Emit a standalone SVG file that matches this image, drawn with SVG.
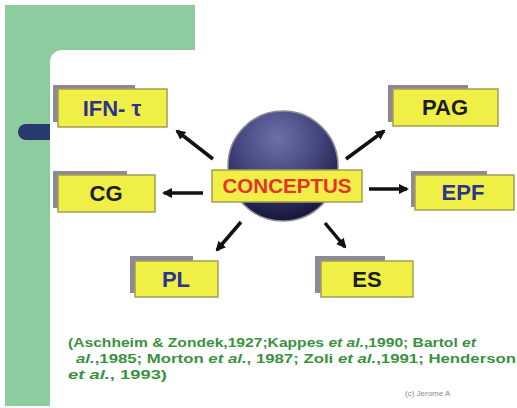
<svg xmlns="http://www.w3.org/2000/svg" width="517" height="408" viewBox="0 0 517 408">
<style>
.box{fill:#efef45;stroke:#a39d55;stroke-width:1.5}
.shadow{fill:#8c8898}
.lbl{font-family:"Liberation Sans",Arial,sans-serif;font-weight:bold;font-size:22px;text-anchor:middle}
.blue{fill:#2d3390}
.blk{fill:#1c1c1c}
.conn line{stroke:#111;stroke-width:3.5;marker-end:url(#ah)}
.cite{font-family:"Liberation Sans",Arial,sans-serif;font-weight:bold;font-size:12.5px;fill:#3a9240}
</style>
<defs>
<marker id="ah" markerUnits="userSpaceOnUse" markerWidth="10" markerHeight="10" viewBox="0 0 10 10" refX="8" refY="5" orient="auto">
<path d="M0,0 L10,5 L0,10 z" fill="#111"/>
</marker>
<radialGradient id="sph" cx="0.45" cy="0.25" r="0.85">
<stop offset="0" stop-color="#6e6ea8"/>
<stop offset="0.45" stop-color="#45457e"/>
<stop offset="0.8" stop-color="#1e1e48"/>
<stop offset="1" stop-color="#0c0c24"/>
</radialGradient>
</defs>
<rect width="517" height="408" fill="#ffffff"/>
<g id="background">
<rect x="5" y="5" width="190" height="60" fill="#8dcc9f"/>
<rect x="5" y="5" width="45" height="401" fill="#8dcc9f"/>
<rect x="18" y="124" width="45" height="16" rx="8" fill="#263a70"/>
<rect x="50" y="50" width="480" height="370" rx="12" fill="#ffffff"/>
</g>
<g id="conceptus">
<circle cx="283" cy="166" r="55" fill="url(#sph)" stroke="#8a8a9a" stroke-width="1.5"/>
<rect class="box" x="212" y="170" width="150" height="32"/>
<text x="287" y="193" font-family="'Liberation Sans',Arial,sans-serif" font-weight="bold" font-size="20" fill="#e5322c" text-anchor="middle" textLength="129" lengthAdjust="spacingAndGlyphs">CONCEPTUS</text>
</g>
<g id="ifn">
<rect class="shadow" x="53" y="85" width="82" height="37"/>
<rect class="box" x="58" y="89" width="109" height="38"/>
<text class="lbl blue" x="112" y="116">IFN- τ</text>
</g>
<g id="cg">
<rect class="shadow" x="53" y="171" width="74" height="37"/>
<rect class="box" x="58" y="175" width="97" height="37"/>
<text class="lbl blk" x="106" y="201">CG</text>
</g>
<g id="pl">
<rect class="shadow" x="130" y="256" width="63" height="37"/>
<rect class="box" x="135" y="261" width="83" height="36"/>
<text class="lbl blue" x="176" y="287">PL</text>
</g>
<g id="es">
<rect class="shadow" x="315" y="256" width="70" height="37"/>
<rect class="box" x="321" y="261" width="92" height="36"/>
<text class="lbl blk" x="367" y="287">ES</text>
</g>
<g id="pag">
<rect class="shadow" x="388" y="85" width="80" height="37"/>
<rect class="box" x="393" y="89" width="105" height="37"/>
<text class="lbl blk" x="445" y="115">PAG</text>
</g>
<g id="epf">
<rect class="shadow" x="411" y="171" width="76" height="36"/>
<rect class="box" x="415" y="175" width="99" height="35"/>
<text class="lbl blue" x="463" y="200">EPF</text>
</g>
<g id="connectors" class="conn">
<line x1="213" y1="159" x2="177" y2="131"/>
<line x1="203" y1="193" x2="164" y2="193"/>
<line x1="241" y1="222" x2="217" y2="250"/>
<line x1="325" y1="223" x2="345" y2="247"/>
<line x1="346" y1="159" x2="384" y2="131"/>
<line x1="369" y1="189" x2="407" y2="189"/>
</g>
<g id="citation">
<text class="cite" x="68" y="347" textLength="408" lengthAdjust="spacingAndGlyphs">(Aschheim &amp; Zondek,1927;Kappes <tspan font-style="italic">et al.</tspan>,1990; Bartol <tspan font-style="italic">et</tspan></text>
<text class="cite" x="76" y="363" textLength="440" lengthAdjust="spacingAndGlyphs"><tspan font-style="italic">al.</tspan>,1985; Morton <tspan font-style="italic">et al.</tspan>, 1987; Zoli <tspan font-style="italic">et al.</tspan>,1991; Henderson</text>
<text class="cite" x="68" y="379" textLength="99" lengthAdjust="spacingAndGlyphs"><tspan font-style="italic">et al.</tspan>, 1993)</text>
<text x="405" y="396" font-family="'Liberation Sans',Arial,sans-serif" font-size="8" fill="#8a8a8a">(c) Jerome A</text>
</g>
</svg>
